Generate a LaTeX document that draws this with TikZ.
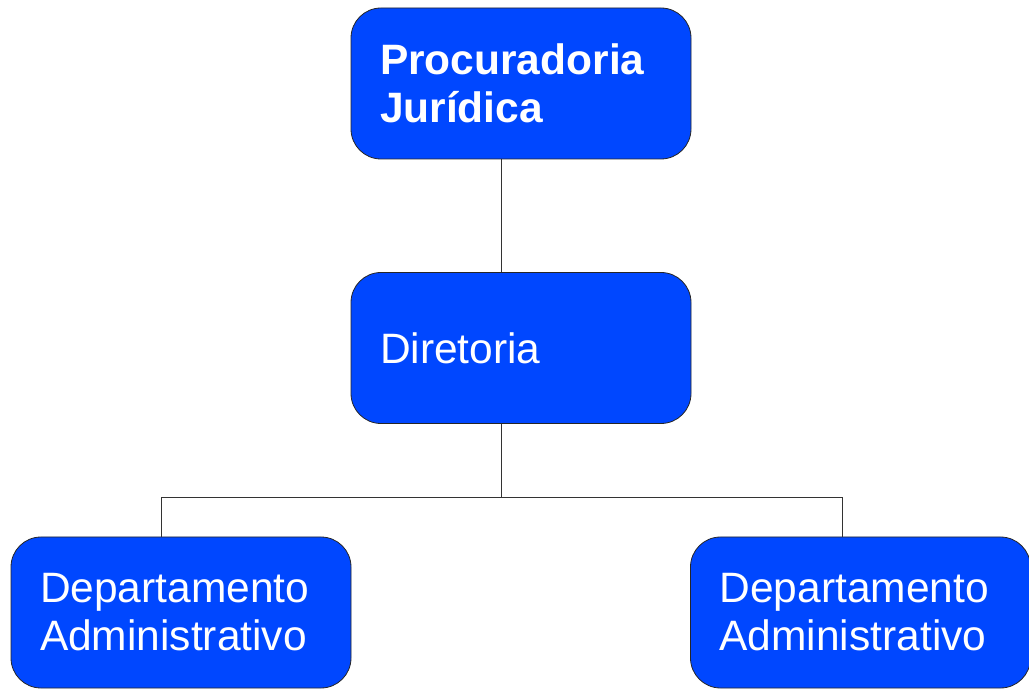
\documentclass[tikz,border=0pt]{standalone}
\usepackage{fontspec}
\setmainfont{Liberation Sans}
\definecolor{boxblue}{HTML}{0047FF}
\definecolor{edgegray}{HTML}{333333}
\begin{document}
\begin{tikzpicture}[x=1pt,y=-1pt,
  orgbox/.style={draw=black!85, line width=0.8pt, fill=boxblue, rounded corners=30pt,
    minimum width=340pt, minimum height=151pt, inner xsep=29pt, inner ysep=0pt,
    text width=282pt, align=left, text=white,
    font=\fontsize{42.5}{48}\selectfont},
  conn/.style={draw=edgegray, line width=1pt}]
\useasboundingbox (0,0) rectangle (1029,692);
\node[orgbox, font=\bfseries\fontsize{42.5}{48}\selectfont] (pj) at (521,83.5) {Procuradoria\\Jurídica};
\node[orgbox] (dir) at (521,348) {Diretoria};
\node[orgbox] (dl) at (181,612.5) {Departamento\\Administrativo};
\node[orgbox] (dr) at (860.5,612.5) {Departamento\\Administrativo};
\coordinate (j) at (501,498);
\draw[conn] (pj.south -| j) -- (dir.north -| j);
\draw[conn] (dir.south -| j) -- (j);
\draw[conn] (j) -| (dl.north -| 161,0);
\draw[conn] (j) -| (dr.north -| 842,0);
\end{tikzpicture}
\end{document}
